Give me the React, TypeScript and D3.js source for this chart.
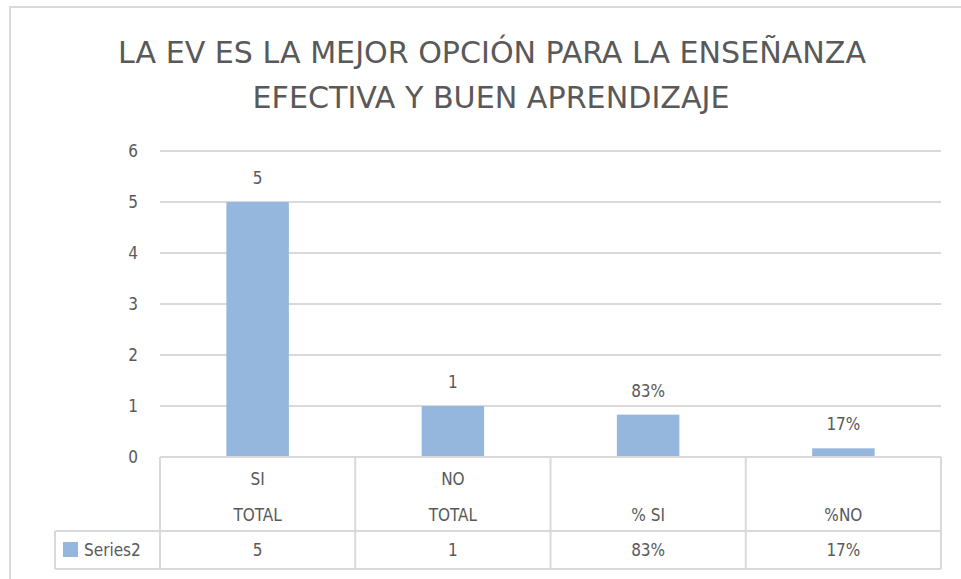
import React, { useRef, useEffect } from 'react';
import * as d3 from 'd3';

const titleLines = ['LA EV ES LA MEJOR OPCIÓN PARA LA ENSEÑANZA', 'EFECTIVA Y BUEN APRENDIZAJE'];
const catTop = ['SI', 'NO', '', ''];
const catBottom = ['TOTAL', 'TOTAL', '% SI', '%NO'];
const values = [5, 1, 0.83, 0.17];
const valueLabels = ['5', '1', '83%', '17%'];
const tableValues = ['5', '1', '83%', '17%'];
const seriesName = 'Series2';
const yMax = 6;

const FONT = '"Liberation Sans Narrow", "DejaVu Sans Condensed", "Liberation Sans", sans-serif';
const GRAY = '#595959';
const LINE = '#d9d9d9';
const BAR = '#95b7de';

const App = () => {
  const svgRef = useRef<SVGSVGElement | null>(null);

  useEffect(() => {
    const W = 961, H = 579;
    const left = 160, right = 941, top = 151, bottom = 457;

    const svg = d3.select(svgRef.current)
      .attr('width', W)
      .attr('height', H);
    svg.selectAll('*').remove();

    svg.append('rect').attr('width', W).attr('height', H).attr('fill', '#fff');

    // chart frame (cut off at right and bottom)
    svg.append('path')
      .attr('d', `M10,${H} L10,7 L${W},7`)
      .attr('fill', 'none')
      .attr('stroke', LINE)
      .attr('stroke-width', 2);

    // title
    const title = svg.append('g').attr('font-family', FONT).attr('fill', GRAY);
    title.append('text')
      .attr('x', 492).attr('y', 63)
      .attr('text-anchor', 'middle')
      .attr('font-size', 31)
      .attr('textLength', 748)
      .attr('lengthAdjust', 'spacingAndGlyphs')
      .text(titleLines[0]);
    title.append('text')
      .attr('x', 491).attr('y', 108)
      .attr('text-anchor', 'middle')
      .attr('font-size', 31)
      .attr('textLength', 477)
      .attr('lengthAdjust', 'spacingAndGlyphs')
      .text(titleLines[1]);

    const x = d3.scaleBand<number>()
      .domain(values.map((d, i) => i))
      .range([left, right])
      .paddingInner(0.68)
      .paddingOuter(0.34);
    const step = x.step();
    const colStart = (i: number) => x(i)! - step * 0.34;

    const y = d3.scaleLinear().domain([0, yMax]).range([bottom, top]);

    // gridlines
    svg.append('g')
      .selectAll('line')
      .data(y.ticks(yMax).filter(t => t > 0))
      .enter()
      .append('line')
      .attr('x1', left).attr('x2', right)
      .attr('y1', d => y(d)).attr('y2', d => y(d))
      .attr('stroke', LINE)
      .attr('stroke-width', 2);

    // y labels
    svg.append('g')
      .selectAll('text')
      .data(y.ticks(yMax))
      .enter()
      .append('text')
      .attr('x', 138)
      .attr('y', d => y(d) + 6)
      .attr('text-anchor', 'end')
      .attr('font-family', FONT)
      .attr('font-size', 17)
      .attr('fill', GRAY)
      .text(d => d);

    // bars
    svg.append('g')
      .selectAll('rect')
      .data(values)
      .enter()
      .append('rect')
      .attr('x', (d, i) => x(i)!)
      .attr('y', d => y(d))
      .attr('width', x.bandwidth())
      .attr('height', d => bottom - y(d))
      .attr('fill', BAR);

    // data labels
    svg.append('g')
      .selectAll('text')
      .data(values)
      .enter()
      .append('text')
      .attr('x', (d, i) => x(i)! + x.bandwidth() / 2)
      .attr('y', d => y(d) - 18)
      .attr('text-anchor', 'middle')
      .attr('font-family', FONT)
      .attr('font-size', 17)
      .attr('fill', GRAY)
      .text((d, i) => valueLabels[i]);

    // data table
    const rowMid = 531, rowEnd = 569, legLeft = 55;
    const tbl = svg.append('g').attr('stroke', LINE).attr('stroke-width', 2).attr('fill', 'none');
    tbl.append('line').attr('x1', left).attr('x2', right).attr('y1', bottom).attr('y2', bottom);
    tbl.append('line').attr('x1', legLeft).attr('x2', right).attr('y1', rowMid).attr('y2', rowMid);
    tbl.append('line').attr('x1', legLeft).attr('x2', right).attr('y1', rowEnd).attr('y2', rowEnd);
    tbl.append('line').attr('x1', legLeft).attr('x2', legLeft).attr('y1', rowMid).attr('y2', rowEnd);
    tbl.selectAll('.col')
      .data(d3.range(values.length + 1))
      .enter()
      .append('line')
      .attr('class', 'col')
      .attr('x1', i => (i < values.length ? colStart(i) : right))
      .attr('x2', i => (i < values.length ? colStart(i) : right))
      .attr('y1', bottom).attr('y2', rowEnd);

    const cellText = svg.append('g')
      .attr('font-family', FONT)
      .attr('font-size', 17)
      .attr('fill', GRAY)
      .attr('text-anchor', 'middle');
    values.forEach((v, i) => {
      const cx = colStart(i) + step / 2;
      if (catTop[i]) cellText.append('text').attr('x', cx).attr('y', 485).text(catTop[i]);
      cellText.append('text').attr('x', cx).attr('y', 521).text(catBottom[i]);
      cellText.append('text').attr('x', cx).attr('y', 556).text(tableValues[i]);
    });

    // legend key
    svg.append('rect')
      .attr('x', 63).attr('y', 542)
      .attr('width', 15).attr('height', 15)
      .attr('fill', BAR);
    svg.append('text')
      .attr('x', 84).attr('y', 556)
      .attr('font-family', FONT)
      .attr('font-size', 17)
      .attr('fill', GRAY)
      .text(seriesName);
  }, []);

  return (
    <div style={{ position: 'absolute', left: 0, top: 0 }}>
      <svg ref={svgRef} style={{ display: 'block' }}></svg>
    </div>
  );
};

export default App;
